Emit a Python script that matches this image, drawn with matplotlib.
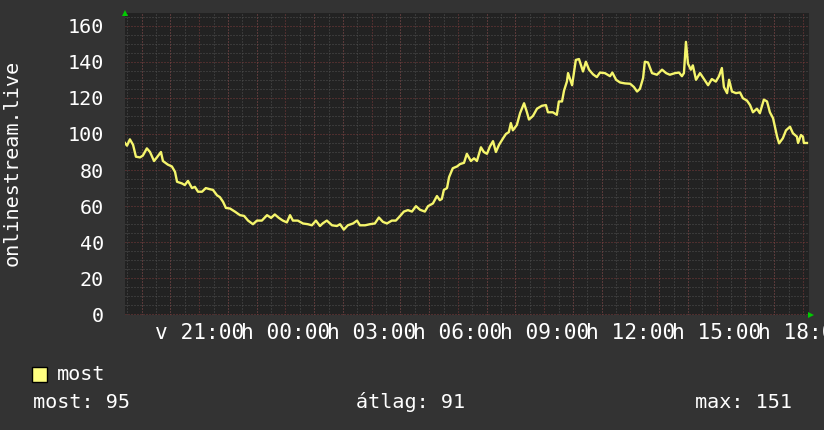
"""RRD-style 24h listener graph for onlinestream.live."""

import matplotlib
matplotlib.use("Agg")
import matplotlib.pyplot as plt
from matplotlib.ticker import MultipleLocator

# hours relative to midnight (negative = previous day), listener count
hours = [-5.58, -5.51, -5.41, -5.30, -5.20, -5.06, -4.96, -4.82, -4.71, -4.57,
         -4.47, -4.33, -4.26, -4.09, -3.95, -3.84, -3.77, -3.60, -3.50, -3.39,
         -3.25, -3.15, -3.04, -2.90, -2.77, -2.63, -2.52, -2.38, -2.28, -2.17,
         -2.07, -1.93, -1.76, -1.58, -1.44, -1.30, -1.13, -0.99, -0.82, -0.64,
         -0.50, -0.37, -0.23, -0.09, 0.05, 0.16, 0.26, 0.43, 0.61, 0.78,
         0.92, 1.06, 1.20, 1.30, 1.44, 1.62, 1.79, 1.90, 2.03, 2.17,
         2.35, 2.49, 2.59, 2.77, 2.94, 3.11, 3.25, 3.39, 3.53, 3.70,
         3.84, 3.98, 4.12, 4.26, 4.40, 4.54, 4.68, 4.85, 4.96, 5.13,
         5.27, 5.37, 5.44, 5.51, 5.62, 5.69, 5.82, 5.97, 6.07, 6.21,
         6.31, 6.45, 6.56, 6.66, 6.80, 6.90, 7.01, 7.11, 7.22, 7.32,
         7.43, 7.57, 7.67, 7.77, 7.84, 7.91, 8.05, 8.16, 8.30, 8.40,
         8.47, 8.61, 8.75, 8.92, 9.06, 9.13, 9.30, 9.44, 9.51, 9.62,
         9.69, 9.79, 9.83, 9.97, 10.10, 10.21, 10.35, 10.45, 10.56, 10.70,
         10.83, 10.94, 11.11, 11.29, 11.37, 11.50, 11.64, 11.81, 11.99, 12.12,
         12.23, 12.33, 12.44, 12.50, 12.61, 12.75, 12.92, 13.10, 13.24, 13.37,
         13.55, 13.69, 13.79, 13.86, 13.93, 14.00, 14.10, 14.17, 14.28, 14.42,
         14.56, 14.70, 14.83, 14.97, 15.08, 15.18, 15.25, 15.36, 15.43, 15.53,
         15.67, 15.81, 15.91, 16.05, 16.16, 16.26, 16.40, 16.50, 16.64, 16.75,
         16.85, 16.96, 17.10, 17.17, 17.30, 17.41, 17.55, 17.65, 17.79, 17.83,
         17.93, 18.00, 18.03, 18.14]
listeners = [95, 93.5, 97, 94, 87.4, 87, 88, 92, 90, 85,
             87, 90, 85, 83, 82, 79, 73.5, 72.6, 71.7, 74,
             70, 70.7, 68, 68, 70, 69.4, 69, 66, 65, 62.4,
             59, 58.7, 57, 55, 54.6, 52, 50, 52, 52, 55,
             53.5, 55.4, 53.5, 52, 51, 55, 52, 52, 50.4, 50,
             49.4, 52, 49, 50.5, 52, 49.4, 49, 50, 47, 49.4,
             50.4, 52, 49.4, 49.4, 50, 50.4, 53.7, 51.3, 50.4, 52,
             52, 54.4, 57, 57.8, 57, 60, 58, 57, 60, 61.5,
             65.6, 63.3, 64, 69, 70, 76, 81, 82, 83.3, 84,
             89, 85, 86.5, 85, 92.6, 90, 89, 93, 96, 90,
             94, 97.6, 100, 101, 106, 102, 105, 111.5, 117, 112,
             108, 110, 114, 115.6, 116, 112, 112, 110.6, 118, 118,
             124, 129, 133.7, 127, 141, 141.5, 134.6, 140, 135.6, 133,
             131.5, 134, 133.7, 132, 134, 130, 128.5, 128, 127.8, 126,
             123.5, 125, 131, 140, 139.6, 133.7, 132.8, 135.6, 133.7, 132.8,
             133.7, 134, 132, 133.7, 151, 139, 135.6, 138, 130, 133.7,
             130.4, 127, 130.4, 129, 132, 136.5, 126, 122.6, 130, 123.5,
             122.6, 123, 119.8, 118.5, 116, 112, 114, 111.5, 119, 118,
             112, 108.7, 98.5, 94.8, 97.6, 102, 104, 100.4, 98.5, 95,
             99.4, 98.5, 95, 95]

x_ticks = [-3, 0, 3, 6, 9, 12, 15, 18]
x_labels = ["v 21:00", "h 00:00", "h 03:00", "h 06:00", "h 09:00",
            "h 12:00", "h 15:00", "h 18:00"]
y_ticks = [0, 20, 40, 60, 80, 100, 120, 140, 160]
title_y = "onlinestream.live"
series_name = "most"
stats = {"most": 95, "átlag": 91, "max": 151}

BG = "#333333"
PLOT_BG = "#222222"
LINE = "#f5f56c"
MINOR = "#505050"
MAJOR = "#7a3a3a"
FONT = "DejaVu Sans Mono"
FS = 14.5

plt.rcParams.update({"font.family": FONT, "font.size": FS})

W, H = 824, 430
fig = plt.figure(figsize=(W / 100, H / 100), dpi=100, facecolor=BG)
ax = fig.add_axes([125 / W, (H - 315) / H, 684 / W, 302 / H])
ax.set_facecolor(PLOT_BG)

ax.plot(hours, listeners, color=LINE, lw=1.7, zorder=3)

ax.set_xlim(-5.58, 18.21)
ax.set_ylim(-0.3, 167)
ax.set_xticks(x_ticks)
ax.set_xticklabels(x_labels, fontsize=15.2)
ax.set_yticks(y_ticks)
ax.xaxis.set_minor_locator(MultipleLocator(0.5))
ax.yaxis.set_minor_locator(MultipleLocator(5))

dots = (0, (1, 2))
ax.grid(which="minor", color=MINOR, lw=0.72, ls=dots, zorder=1)
for h in range(-5, 19):
    ax.axvline(h, color=MAJOR, lw=0.72, ls=dots, zorder=2)
for v in y_ticks:
    ax.axhline(v, color=MAJOR, lw=0.72, ls=dots, zorder=2)

for s in ax.spines.values():
    s.set_visible(False)
ax.tick_params(which="both", length=0, labelcolor="white")
ax.tick_params(axis="x", pad=6)
ax.tick_params(axis="y", pad=15)

# axis arrows
ax.plot([0], [1.0], marker="^", color="#00cc00", ms=5, transform=ax.transAxes,
        clip_on=False, zorder=5, markeredgewidth=0)
ax.plot([1.003], [0], marker=">", color="#00cc00", ms=5, transform=ax.transAxes,
        clip_on=False, zorder=5, markeredgewidth=0)

fig.text(3 / W, 1 - 163 / H, title_y, rotation=90, color="white",
         ha="left", va="center", fontsize=FS)

# legend
fig.patches.append(plt.Rectangle((32 / W, 1 - 382 / H), 15 / W, 15 / H,
                                 transform=fig.transFigure, facecolor="#ffff80",
                                 edgecolor="black", lw=1))
fig.text(57 / W, 1 - 374 / H, series_name, color="white", va="center", fontsize=FS)
keys = list(stats)
fig.text(33 / W, 1 - 402 / H, f"{keys[0]}: {stats[keys[0]]}", color="white",
         va="center", ha="left", fontsize=FS)
fig.text(411 / W, 1 - 402 / H, f"{keys[1]}: {stats[keys[1]]}", color="white",
         va="center", ha="center", fontsize=FS)
fig.text(792 / W, 1 - 402 / H, f"{keys[2]}: {stats[keys[2]]}", color="white",
         va="center", ha="right", fontsize=FS)

fig.savefig("out.png", dpi=100, facecolor=BG)
